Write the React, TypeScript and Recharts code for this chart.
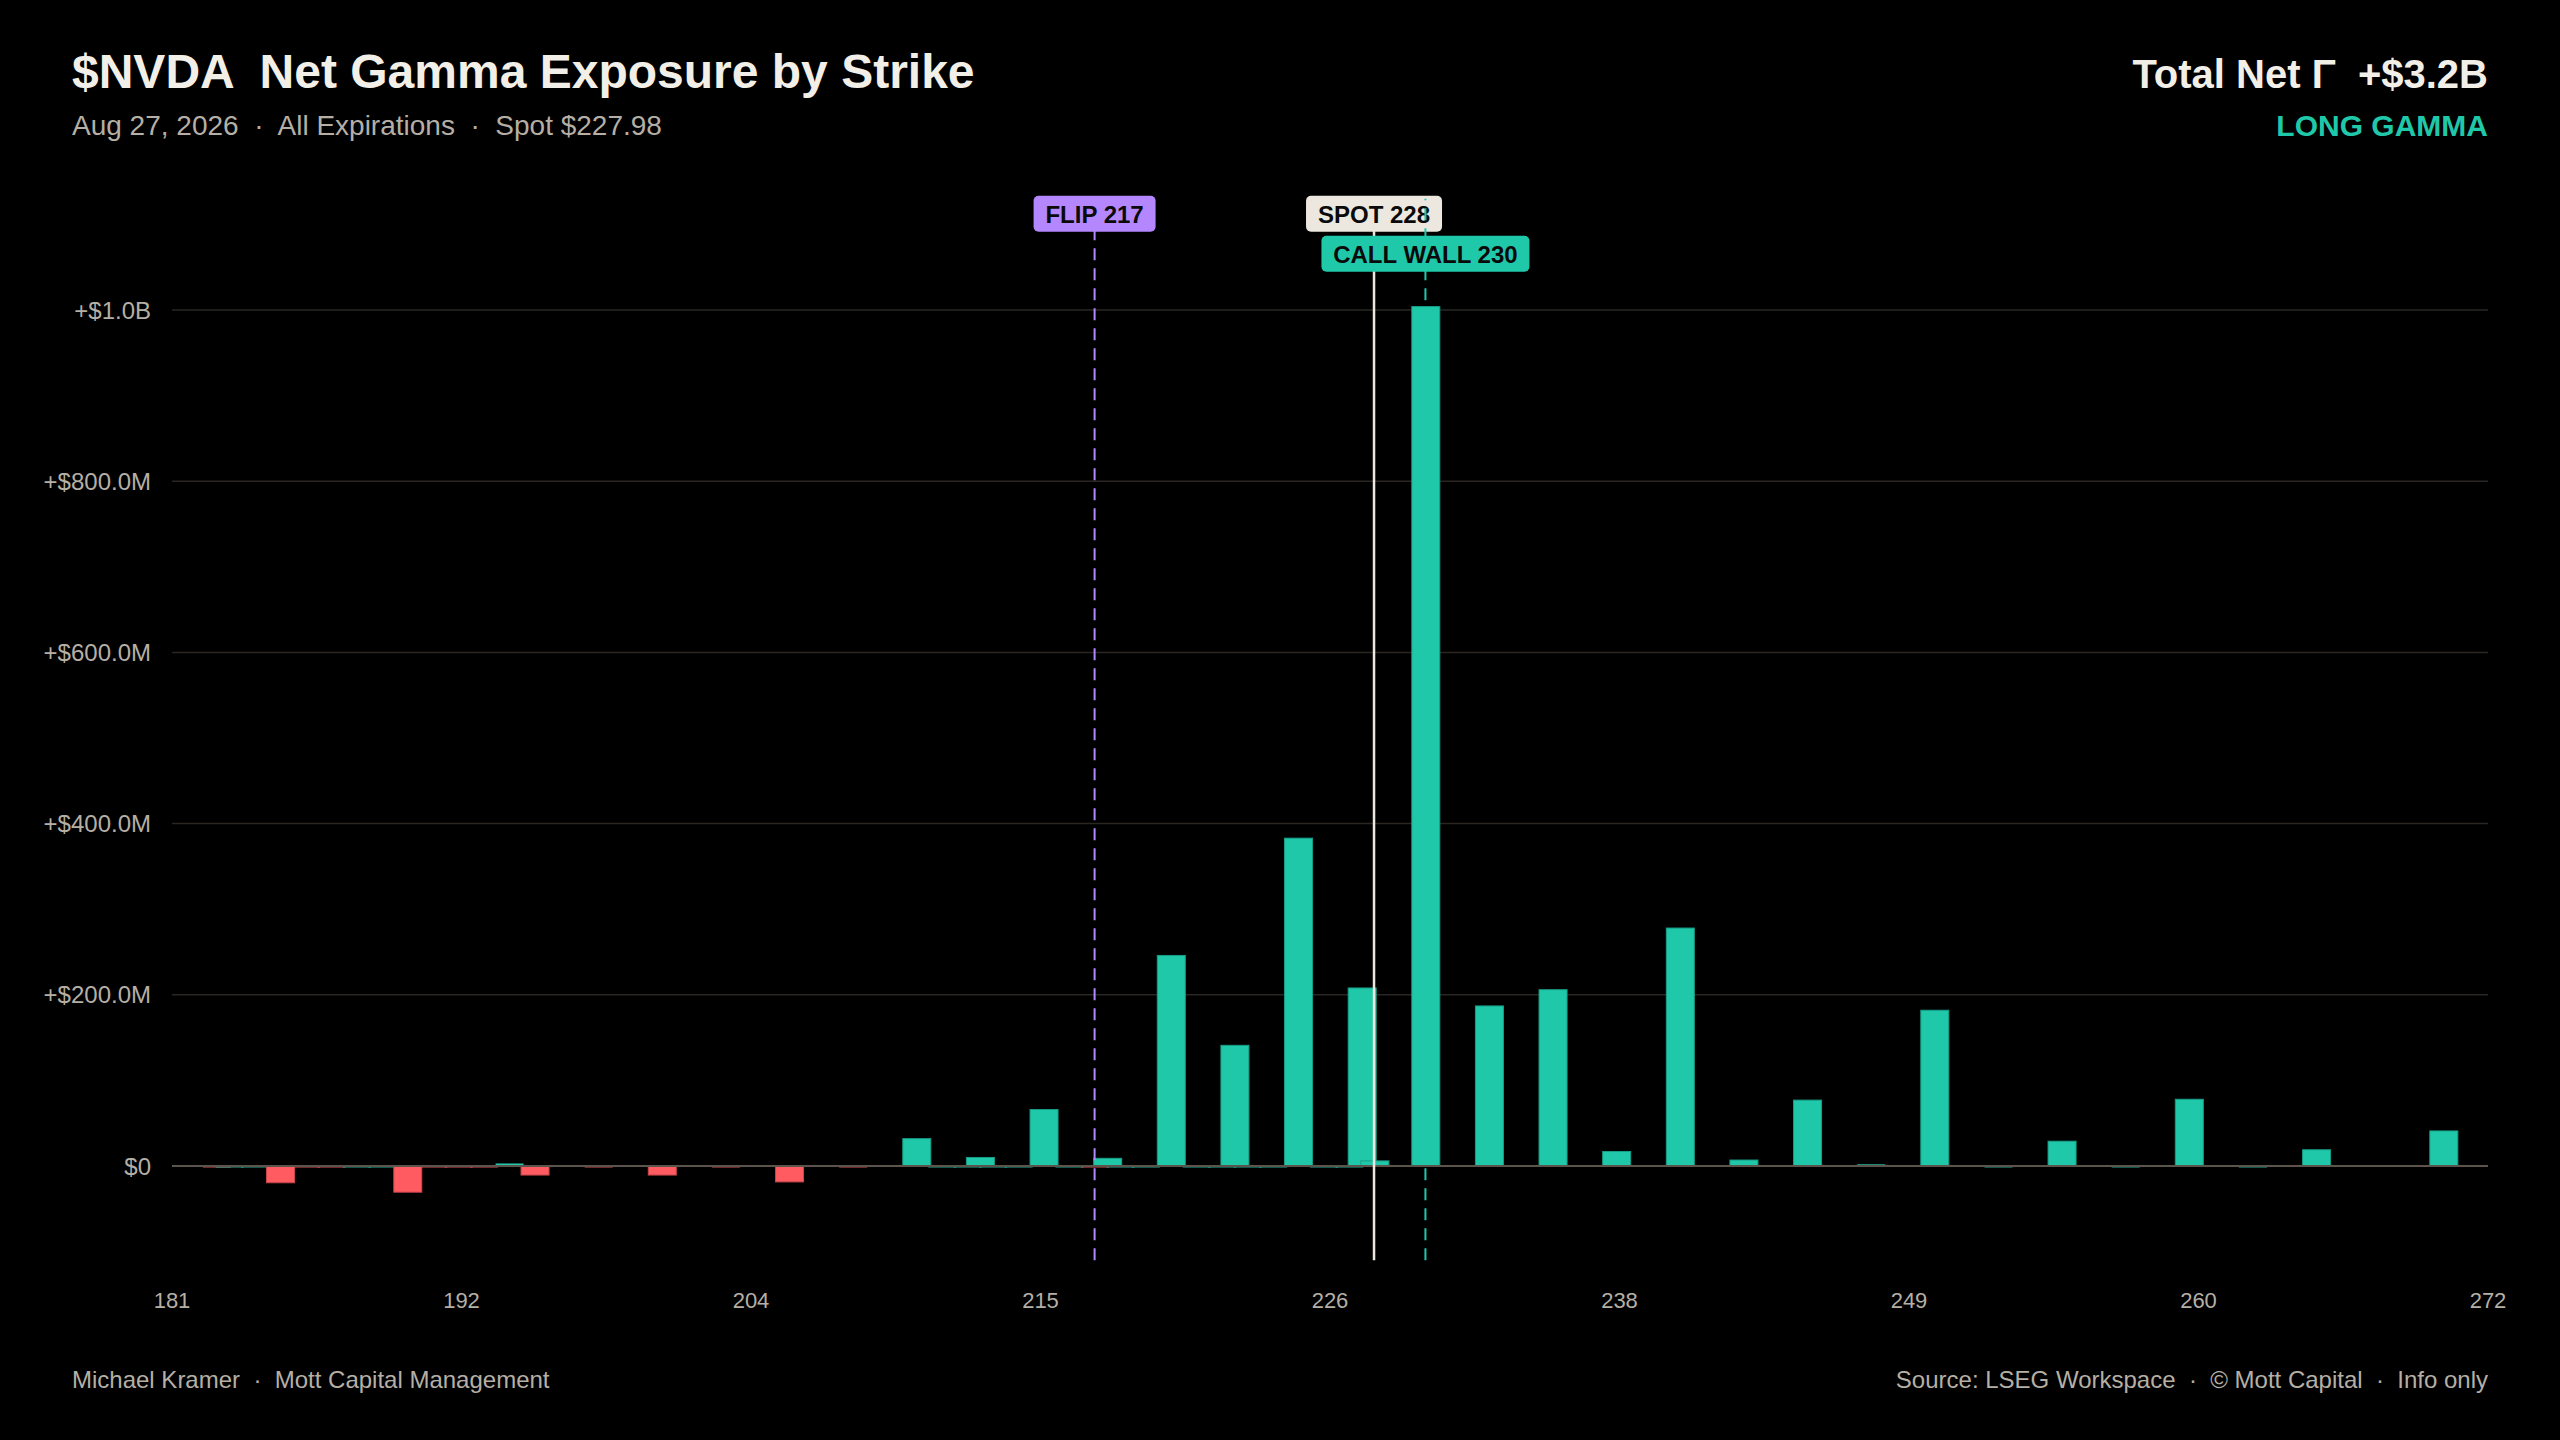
import {
  BarChart,
  Bar,
  XAxis,
  YAxis,
  CartesianGrid,
  ReferenceLine,
} from 'recharts'

// strikes (USD) and net gamma exposure per strike, in $ millions
const strikes = [
  182.5, 183, 184, 185, 186, 187, 188, 189, 190, 191, 192, 193, 194, 195,
  197.5, 200, 202.5, 205, 207.5, 210, 211, 212, 212.5, 213, 214, 215, 216,
  217, 217.5, 218, 219, 220, 221, 222, 222.5, 223, 224, 225, 226, 227, 227.5,
  228, 230, 232.5, 235, 237.5, 240, 242.5, 245, 247.5, 250, 252.5, 255, 257.5,
  260, 262.5, 265, 270,
]
const gammaM = [
  -2, 0, 0, -20, -2, -2, 0, 0, -31, -2, -2, -2, 3, -11,
  -2, -11, -2, -19, -2, 32, 0, 0, 10, 0, 0, 66, 0,
  -1.5, 9, 0, 0, 246, 0, 0, 141, 0, 0, 383, 0, 0, 208,
  6, 1004, 187, 206, 17, 278, 7, 77, 2, 182, 0, 29, 0,
  78, 0, 19, 41,
]

const xTicks = [180.75, 192.125, 203.5, 214.875, 226.25, 237.625, 249, 260.375, 271.75]
const yTicks = [0, 200, 400, 600, 800, 1000]

const spot = 227.98
const flip = 217
const callWall = 230

const rows = strikes.map((s, i) => ({ strike: s, value: gammaM[i] }))

const BG = '#000000'
const TEAL = '#20c8aa'
const TEAL_EDGE = '#179e87'
const RED = '#ff5b60'
const RED_EDGE = '#c8464a'
const PURPLE = '#b487ff'
const SPOT_C = '#ece8e0'
const TITLE_C = '#f2efe8'
const MUTED = '#b5afa5'
const GRID = '#2a2723'
const ZERO = '#5a544d'
const FONT = '"Liberation Sans", Arial, Helvetica, sans-serif'
const BAR_W = 28

function GammaBar(props: any) {
  const { x, width, y, height, payload } = props
  if (x == null || y == null) return null
  const v = payload.value
  const cx = x + width / 2
  const base = y + height
  const h = Math.abs(height)
  if (v > 0) {
    return (
      <rect
        x={cx - BAR_W / 2}
        y={Math.min(y, base)}
        width={BAR_W}
        height={h}
        fill={TEAL}
        stroke={h > 3 ? TEAL_EDGE : 'none'}
        strokeWidth={1}
      />
    )
  }
  const hh = Math.max(h, 1.8)
  return (
    <rect
      x={cx - BAR_W / 2}
      y={base - 0.4}
      width={BAR_W}
      height={hh}
      fill={v < 0 ? RED : TEAL}
      stroke={hh > 3 ? RED_EDGE : 'none'}
      strokeWidth={1}
    />
  )
}

function Tag(props: any) {
  const { viewBox, text, w, dy, fill } = props
  if (!viewBox) return null
  const cx = viewBox.x
  const top = viewBox.y + dy
  return (
    <g>
      <rect x={cx - w / 2} y={top} width={w} height={36} rx={5} fill={fill} />
      <text
        x={cx}
        y={top + 27}
        textAnchor="middle"
        fontFamily={FONT}
        fontWeight={700}
        fontSize={24}
        fill="#0a0a0a"
      >
        {text}
      </text>
    </g>
  )
}

const fmtY = (v: number) => {
  if (v === 0) return '$0'
  if (v >= 1000) return `+$${(v / 1000).toFixed(1)}B`
  return `+$${v.toFixed(1)}M`
}

const abs = (style: any) => ({
  position: 'absolute' as const,
  lineHeight: 1,
  whiteSpace: 'pre' as const,
  fontFamily: FONT,
  ...style,
})

export default function App() {
  return (
    <div
      style={{
        position: 'fixed',
        left: 0,
        top: 0,
        width: 2560,
        height: 1440,
        background: BG,
        overflow: 'hidden',
      }}
    >
      <BarChart
        width={2560}
        height={1440}
        data={rows}
        margin={{ top: 198.7, right: 72, bottom: 119.8, left: 72 }}
        style={{ fontFamily: FONT }}
      >
        <CartesianGrid
          vertical={false}
          horizontalValues={yTicks}
          stroke={GRID}
          strokeWidth={1.5}
        />
        <XAxis
          dataKey="strike"
          type="number"
          domain={[180.75, 271.75]}
          ticks={xTicks}
          interval={0}
          allowDataOverflow
          tickFormatter={(v: number) => String(Math.round(v))}
          axisLine={false}
          tickLine={false}
          tickSize={0}
          tickMargin={32}
          height={60}
          tick={{ fill: MUTED, fontSize: 22, fontFamily: FONT }}
        />
        <YAxis
          type="number"
          domain={[-110, 1130]}
          ticks={yTicks}
          allowDataOverflow
          interval={0}
          tickFormatter={fmtY}
          axisLine={false}
          tickLine={false}
          tickSize={0}
          tickMargin={21}
          width={100}
          tick={{ fill: MUTED, fontSize: 24, fontFamily: FONT }}
        />
        <ReferenceLine y={0} stroke={ZERO} strokeWidth={2} />
        <Bar
          dataKey="value"
          barSize={BAR_W}
          isAnimationActive={false}
          shape={(p: any) => <GammaBar {...p} />}
        />
        <ReferenceLine
          x={flip}
          stroke={PURPLE}
          strokeWidth={2}
          strokeDasharray="12 8"
          label={<Tag text="FLIP 217" w={122} dy={-3} fill={PURPLE} />}
        />
        <ReferenceLine
          x={spot}
          stroke={SPOT_C}
          strokeWidth={2.5}
          label={<Tag text="SPOT 228" w={136} dy={-3} fill={SPOT_C} />}
        />
        <ReferenceLine
          x={callWall}
          stroke={TEAL}
          strokeWidth={2}
          strokeDasharray="12 8"
          label={<Tag text="CALL WALL 230" w={208} dy={37} fill={TEAL} />}
        />
      </BarChart>

      <div style={abs({ left: 72, top: 47.5, fontSize: 48, fontWeight: 700, color: TITLE_C })}>
        {'$NVDA  Net Gamma Exposure by Strike'}
      </div>
      <div style={abs({ left: 72, top: 112.3, fontSize: 28, color: MUTED })}>
        {'Aug 27, 2026  ·  All Expirations  ·  Spot $227.98'}
      </div>
      <div style={abs({ right: 72, top: 54, fontSize: 40, fontWeight: 700, color: TITLE_C })}>
        {'Total Net Γ  +$3.2B'}
      </div>
      <div style={abs({ right: 72, top: 110.6, fontSize: 30, fontWeight: 700, color: TEAL })}>
        {'LONG GAMMA'}
      </div>
      <div style={abs({ left: 72, top: 1367.7, fontSize: 24, color: MUTED })}>
        {'Michael Kramer  ·  Mott Capital Management'}
      </div>
      <div style={abs({ right: 72, top: 1367.7, fontSize: 24, color: MUTED })}>
        {'Source: LSEG Workspace  ·  © Mott Capital  ·  Info only'}
      </div>
    </div>
  )
}
